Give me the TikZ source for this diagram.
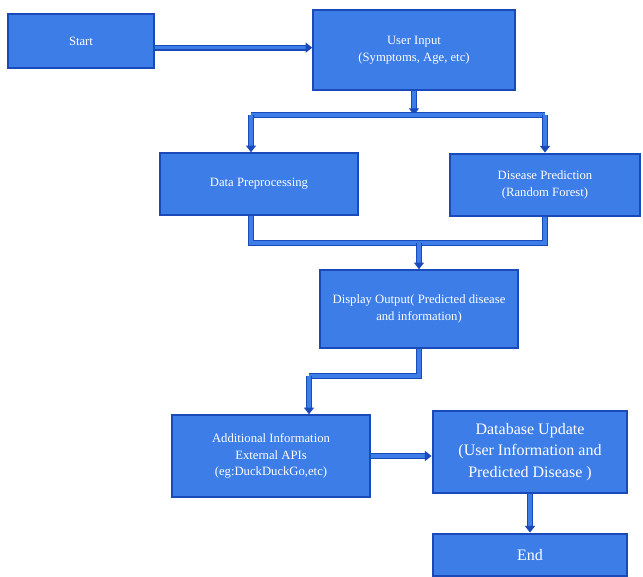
\documentclass[tikz,border=0pt]{standalone}
\usepackage{fontspec}
\setmainfont{Liberation Serif}
\usetikzlibrary{shapes, arrows.meta, positioning, calc}
\definecolor{boxblue}{RGB}{60,125,232}
\definecolor{rimblue}{RGB}{26,74,186}

\tikzset{
	stepbox/.style={rectangle, draw=rimblue, line width=1.6pt, fill=boxblue,
		text=white, align=center, font=\fontsize{9.5}{12.5}\selectfont, inner sep=2pt},
	conn/.style={draw=rimblue, line width=1pt, double=boxblue, double distance=2.6pt},
	tip/.style={conn, -{Triangle[length=5pt,width=7.5pt]}}
}

\begin{document}
\begin{tikzpicture}[x=0.75pt, y=-0.75pt]
			\useasboundingbox (0,0) rectangle (643,577);
			\node[stepbox, minimum width=109pt, minimum height=41pt] (start) at (81,41) {Start};
			\node[stepbox, minimum width=151pt, minimum height=60pt] (input) at (414,50) {User Input\\(Symptoms, Age, etc)};
				\node[stepbox, minimum width=148pt, minimum height=46pt] (prep) at (259,184) {Data Preprocessing};
				\node[stepbox, minimum width=143pt, minimum height=47pt] (pred) at (545,185) {Disease Prediction\\(Random Forest)};
			\node[stepbox, minimum width=148pt, minimum height=58pt] (disp) at (419,309) {Display Output( Predicted disease\\and information)};
				\node[stepbox, minimum width=148pt, minimum height=61pt] (addl) at (271,456) {Additional Information\\External APIs\\(eg:DuckDuckGo,etc)};
				\node[stepbox, minimum width=146pt, minimum height=62pt, font=\fontsize{12}{16}\selectfont] (dbup) at (530,452) {Database Update\\(User Information and\\Predicted Disease )};
				\node[stepbox, minimum width=146pt, minimum height=32pt, font=\fontsize{12}{14}\selectfont] (endn) at (530,555) {End};
			% branch and merge points
			\coordinate (split) at (414,115);
			\coordinate (join) at (419,243);
			\coordinate (bend) at (309,376);
			\draw[tip] ([yshift=-5]start.east) -- ([yshift=-5]start.east -| input.west);
			\draw[tip] (input.south) -- (split);
			\draw[conn] ([xshift=-6]prep.north |- split) -- (pred.north |- split);
			\draw[tip] ([xshift=-6]prep.north |- split) -- ([xshift=-6]prep.north);
			\draw[tip] (pred.north |- split) -- (pred.north);
			\draw[conn] ([xshift=-6]prep.south) -- ([xshift=-6]prep.south |- join) -- (pred.south |- join) -- (pred.south);
			\draw[tip] (join) -- (disp.north);
			\draw[conn] (disp.south) |- (bend);
			\draw[tip] (bend) -- (bend |- addl.north);
			\foreach \from/\to in {addl/dbup}
				\draw[tip] (\from.east) -- (\from.east -| \to.west);
			\draw[tip] (dbup.south) -- (endn.north);
		\end{tikzpicture}
\end{document}
